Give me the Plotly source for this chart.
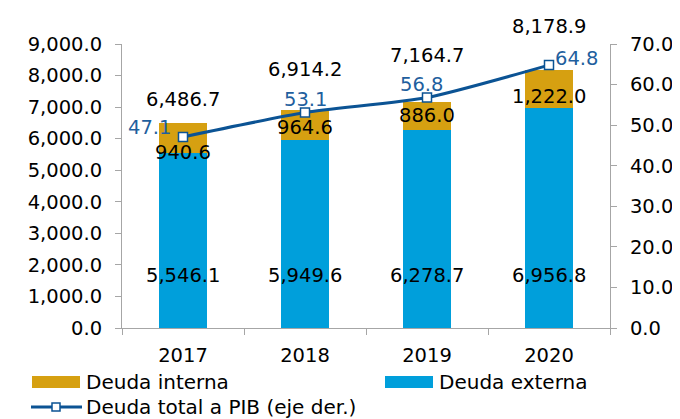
import plotly.graph_objects as go

years = ["2017", "2018", "2019", "2020"]
deuda_externa = [5546.1, 5949.6, 6278.7, 6956.8]
deuda_interna = [940.6, 964.6, 886.0, 1222.0]
deuda_total = [6486.7, 6914.2, 7164.7, 8178.9]
deuda_pib = [47.1, 53.1, 56.8, 64.8]
y_ticks = [0, 1000, 2000, 3000, 4000, 5000, 6000, 7000, 8000, 9000]
y2_ticks = [0, 10, 20, 30, 40, 50, 60, 70]

C_INT = "#D6A011"
C_EXT = "#009FDB"
C_LINE = "#0B5394"
C_LAB = "#1F5F9E"
GRID = "#A6A6A6"
FONT = "DejaVu Sans, Verdana, sans-serif"
FS = 19.5

# page has an 8px body margin; compensate so the visible picture lines up
OFF = 8
W, H = 680, 419
L, T = 122 - OFF, 44 - OFF
R = W - (610 - OFF)
B = H - (328 - OFF)
PW, PH = W - L - R, H - T - B
px = lambda x: (x - OFF - L) / PW
py = lambda y: (H - B - (y - OFF)) / PH

fig = go.Figure()
fig.add_trace(go.Bar(x=years, y=deuda_externa, marker_color=C_EXT, width=0.4,
                     name="Deuda externa", marker_line_width=0))
fig.add_trace(go.Bar(x=years, y=deuda_interna, marker_color=C_INT, width=0.4,
                     name="Deuda interna", marker_line_width=0))
fig.add_trace(go.Scatter(x=years, y=deuda_pib, yaxis="y2", mode="lines+markers",
                         line=dict(color=C_LINE, width=3, shape="spline", smoothing=0.6),
                         marker=dict(symbol="square", size=9, color="white",
                                     line=dict(color=C_LINE, width=1.5)),
                         name="Deuda total a PIB (eje der.)"))

ann = []
fmt = lambda v: f"{v:,.1f}"
tot_shift = [24, 40, 46, 43]
int_shift = [-14, -2, 0, -7]
for i, yr in enumerate(years):
    ann.append(dict(x=i, y=deuda_total[i], xref="x", yref="y", text=fmt(deuda_total[i]),
                    showarrow=False, yshift=tot_shift[i], font=dict(color="black", size=FS, family=FONT)))
    ann.append(dict(x=i, y=deuda_externa[i] + deuda_interna[i] / 2, xref="x", yref="y",
                    text=fmt(deuda_interna[i]), showarrow=False, yshift=int_shift[i],
                    font=dict(color="black", size=FS, family=FONT)))
    ann.append(dict(x=i, y=0, xref="x", yref="y", text=fmt(deuda_externa[i]),
                    showarrow=False, yshift=53, font=dict(color="black", size=FS, family=FONT)))

pib_pos = [(-34, 9), (0, 13), (-6, 13), (27, 7)]
for i, yr in enumerate(years):
    xs, ys = pib_pos[i]
    ann.append(dict(x=i, y=deuda_pib[i], xref="x", yref="y2", text=fmt(deuda_pib[i]),
                    showarrow=False, xshift=xs, yshift=ys,
                    font=dict(color=C_LAB, size=FS, family=FONT)))

# custom legend
LFS = 20
shapes = []
leg = [(32, 382, C_INT, "Deuda interna"), (385, 382, C_EXT, "Deuda externa")]
for x0, yc, col, txt in leg:
    shapes.append(dict(type="rect", xref="paper", yref="paper",
                       x0=px(x0), x1=px(x0 + 48), y0=py(yc + 6), y1=py(yc - 6),
                       fillcolor=col, line=dict(width=0)))
    ann.append(dict(x=px(x0 + 52), y=py(yc), xref="paper", yref="paper",
                    text=txt, showarrow=False, xanchor="left", yanchor="middle",
                    font=dict(color="black", size=LFS, family=FONT)))
yl = 407
shapes.append(dict(type="line", xref="paper", yref="paper",
                   x0=px(31), x1=px(82), y0=py(yl), y1=py(yl),
                   line=dict(color=C_LINE, width=3)))
shapes.append(dict(type="rect", xref="paper", yref="paper",
                   x0=px(52), x1=px(60), y0=py(yl + 4), y1=py(yl - 4),
                   fillcolor="white", line=dict(color=C_LINE, width=1.5)))
ann.append(dict(x=px(84), y=py(yl), xref="paper", yref="paper",
                text="Deuda total a PIB (eje der.)", showarrow=False, xanchor="left",
                yanchor="middle", font=dict(color="black", size=LFS, family=FONT)))

fig.update_layout(
    width=W, height=H, barmode="stack", showlegend=False,
    margin=dict(l=L, r=R, t=T, b=B),
    paper_bgcolor="white", plot_bgcolor="white",
    font=dict(family=FONT, size=FS, color="black"),
    xaxis=dict(type="category", range=[-0.5, 3.5], showline=True, linecolor=GRID,
               linewidth=1, ticks="outside", tickson="boundaries", ticklen=6,
               tickcolor=GRID, showgrid=False, tickfont=dict(size=FS),
               ticklabelstandoff=10),
    yaxis=dict(range=[0, 9000], tickvals=y_ticks, tickformat=",.1f", showline=True,
               linecolor=GRID, ticks="outside", ticklen=6, tickcolor=GRID,
               showgrid=False, zeroline=False, tickfont=dict(size=FS),
               ticklabelstandoff=9),
    yaxis2=dict(range=[0, 70], tickvals=y2_ticks, tickformat=".1f", overlaying="y",
                side="right", showline=True, linecolor=GRID, ticks="outside",
                ticklen=6, tickcolor=GRID, showgrid=False, zeroline=False,
                tickfont=dict(size=FS), ticklabelstandoff=9),
    annotations=ann, shapes=shapes,
)
fig.write_html("out.html")
